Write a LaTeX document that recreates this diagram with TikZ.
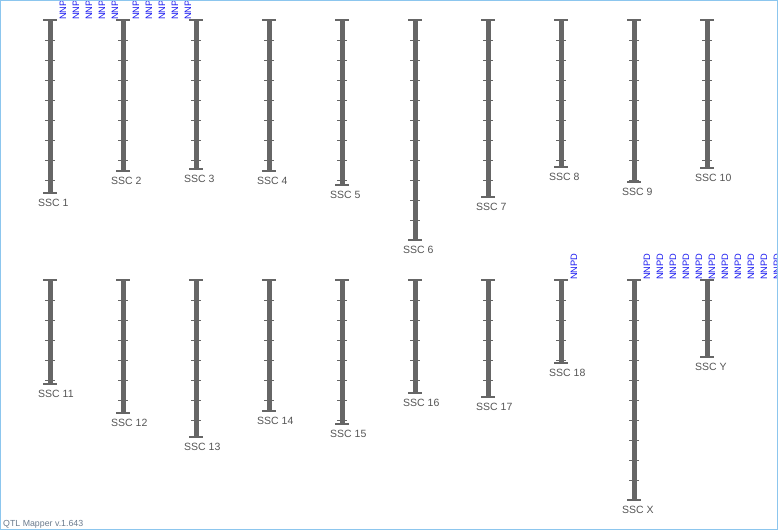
\documentclass[tikz,border=0pt]{standalone}
\usepackage{fontspec}
\setmainfont{Liberation Sans}
\usetikzlibrary{positioning}
\definecolor{chromgray}{HTML}{666666}
\definecolor{labelgray}{HTML}{555555}
\definecolor{markerblue}{HTML}{1A1AF0}
\definecolor{frameblue}{HTML}{8CC6EE}
\definecolor{versiongray}{HTML}{6A7A8C}
\tikzset{
  chrombar/.style={chromgray, line width=5pt},
  chromcap/.style={chromgray, line width=1.3pt},
  chromtick/.style={chromgray, line width=0.9pt},
  chromlabel/.style={labelgray, font=\fontsize{10.5}{12}\selectfont, anchor=north west, inner sep=0pt},
  markerlabel/.style={markerblue, font=\fontsize{9.3}{11}\selectfont, rotate=90, anchor=west, inner sep=0pt},
  versionlabel/.style={versiongray, font=\fontsize{8.8}{10}\selectfont, anchor=base west, inner sep=0pt}
}

\begin{document}
\begin{tikzpicture}[x=1pt, y=-1pt]
  \useasboundingbox (0,0) rectangle (778,530);
  \clip (0,0) rectangle (778,530);
  \foreach \name/\xx/\ytop/\ybot in {1/50/20/193, 2/123/20/171, 3/196/20/169, 4/269/20/171, 5/342/20/185,
      6/415/20/240, 7/488/20/197, 8/561/20/167, 9/634/20/182, 10/707/20/168,
      11/50/280/384, 12/123/280/413, 13/196/280/437, 14/269/280/411, 15/342/280/424,
      16/415/280/393, 17/488/280/397, 18/561/280/363, X/634/280/500, Y/707/280/357}{
    \draw[chrombar] (\xx,\ytop) -- (\xx,\ybot);
    \draw[chromcap] (\xx-7,\ytop) -- (\xx+7,\ytop);
    \draw[chromcap] (\xx-7,\ybot) -- (\xx+7,\ybot);
    \pgfmathtruncatemacro{\nticks}{(\ybot-\ytop-1)/20}
    \foreach \k in {1,...,\nticks}
      \draw[chromtick] (\xx-5,\ytop+20*\k) -- (\xx+5,\ytop+20*\k);
    \node[chromlabel] (ssc\name) at (\xx-12,\ybot+6) {SSC \name};
  }
  \foreach \xx/\ytop/\nm in {50/20/5, 123/20/5, 561/280/1, 634/280/11}{
    \foreach \k in {1,...,\nm}
      \node[markerlabel] (nnpd\xx-\k) at (\xx+13*\k,\ytop) {NNPD};
  }
  \node[versionlabel] (version) at (3,526) {QTL Mapper v.1.643};
  \draw[frameblue] (0.5,0.5) rectangle (777.5,529.5);
\end{tikzpicture}
\end{document}
